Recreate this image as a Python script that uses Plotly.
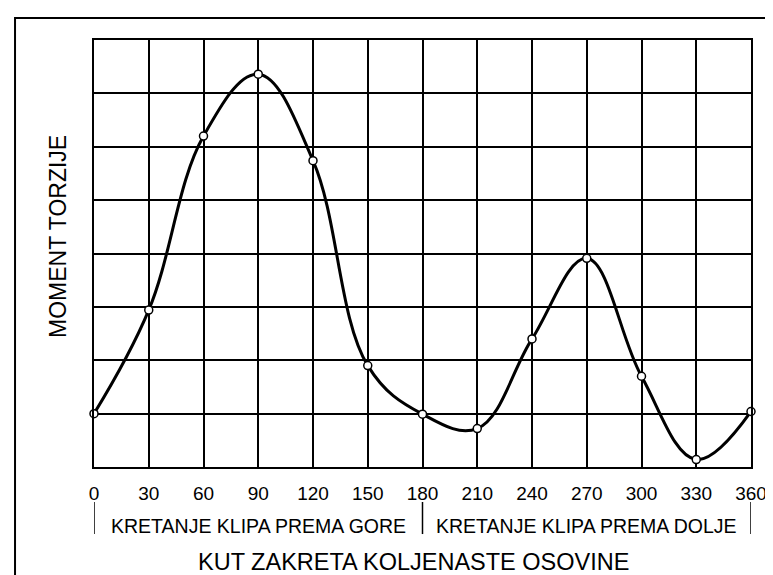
import plotly.graph_objects as go

# Data
angles = [0, 30, 60, 90, 120, 150, 180, 210, 240, 270, 300, 330, 360]
torque = [1.0, 2.94, 6.2, 7.36, 5.74, 1.9, 0.99, 0.72, 2.40, 3.91, 1.70, 0.14, 1.04]
tick_vals = list(range(0, 361, 30))
tick_text = [str(v) for v in tick_vals]
section_labels = ["KRETANJE KLIPA PREMA GORE", "KRETANJE KLIPA PREMA DOLJE"]
section_centers = [90, 270]
section_bounds = [0, 180, 360]
y_title = "MOMENT TORZIJE"
x_title = "KUT ZAKRETA KOLJENASTE OSOVINE"

FONT = "Liberation Sans, Arial, sans-serif"

fig = go.Figure()
fig.add_trace(go.Scatter(
    x=angles, y=torque, mode="lines+markers",
    line=dict(color="black", width=3, shape="spline", smoothing=1.1),
    marker=dict(symbol="circle", size=8, color="white",
                line=dict(color="black", width=1.5)),
    showlegend=False, cliponaxis=False,
))

fig.update_layout(
    width=773, height=575,
    margin=dict(l=86, r=30, t=32, b=116),
    paper_bgcolor="white", plot_bgcolor="white",
    font=dict(family=FONT, color="black"),
    xaxis=dict(range=[0, 360], tickvals=tick_vals, ticktext=tick_text,
               showgrid=True, gridcolor="black", gridwidth=1.5,
               showline=True, linecolor="black", linewidth=1.5, mirror=True,
               zeroline=False, ticks="", ticklabelstandoff=8,
               tickfont=dict(size=19, family=FONT, color="black")),
    yaxis=dict(range=[0, 8], dtick=1, showticklabels=False,
               showgrid=True, gridcolor="black", gridwidth=1.5,
               showline=True, linecolor="black", linewidth=1.5, mirror=True,
               zeroline=False, ticks=""),
)

# Section separators
for b in section_bounds:
    fig.add_shape(type="line", xref="x", yref="paper", x0=b, x1=b,
                  y0=-0.082, y1=-0.157, line=dict(color="black", width=1.5))

for c, lab in zip(section_centers, section_labels):
    fig.add_annotation(x=c, y=-0.138, xref="x", yref="paper", text=lab,
                       showarrow=False, font=dict(size=19.5, family=FONT, color="black"),
                       xanchor="center", yanchor="middle")

fig.add_annotation(x=0.487, y=-0.222, xref="paper", yref="paper", text=x_title,
                   showarrow=False, font=dict(size=23.5, family=FONT, color="black"),
                   xanchor="center", yanchor="middle", borderpad=0)

fig.add_annotation(x=-0.0548, y=0.541, xref="paper", yref="paper", text=y_title,
                   textangle=-90, showarrow=False,
                   font=dict(size=23, family=FONT, color="black"),
                   xanchor="center", yanchor="middle")

# Outer frame of the scanned figure (left and top edges visible)
fig.add_shape(type="rect", xref="paper", yref="paper",
              x0=-0.1202, x1=1.12, y0=-0.40, y1=1.0515,
              line=dict(color="black", width=2), layer="above")

fig.write_html("out.html")
